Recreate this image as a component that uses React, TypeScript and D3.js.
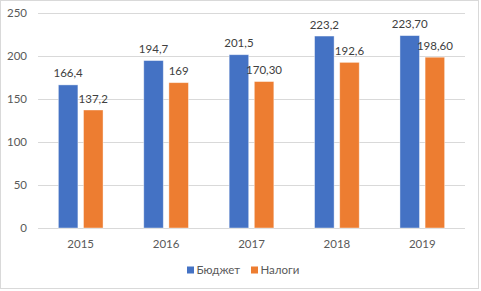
import React from "react";
import * as d3 from "d3";

const years = ["2015", "2016", "2017", "2018", "2019"];
const seriesNames = ["Бюджет", "Налоги"];
const budget = [166.4, 194.7, 201.5, 223.2, 223.7];
const taxes = [137.2, 169, 170.3, 192.6, 198.6];
const budgetLabels = ["166,4", "194,7", "201,5", "223,2", "223,70"];
const taxesLabels = ["137,2", "169", "170,30", "192,6", "198,60"];
const yTicks = [0, 50, 100, 150, 200, 250];
const colors = ["#4472C4", "#ED7D31"];

const W = 481;
const H = 291;
const FONT = "Lato, 'Open Sans', sans-serif";

export default function App() {
  const x0 = d3.scaleBand<string>().domain(years).range([38, 465]).paddingInner(0).paddingOuter(0);
  const x1 = d3
    .scaleBand<string>()
    .domain(seriesNames)
    .range([0, x0.bandwidth()])
    .paddingInner(0.223)
    .paddingOuter(0.81);
  const y = d3.scaleLinear().domain([0, 250]).range([228, 13]);

  const values = [budget, taxes];
  const labels = [budgetLabels, taxesLabels];

  return (
    <svg
      width={W}
      height={H}
      style={{ position: "absolute", left: 0, top: 0, background: "#fff" }}
      fontFamily={FONT}
    >
      <rect x={0.5} y={0.5} width={478} height={288} fill="#fff" stroke="#d9d9d9" strokeWidth={1} />
      {yTicks.map((t) => (
        <g key={t}>
          <line x1={38} x2={465} y1={y(t) + 0.5} y2={y(t) + 0.5} stroke="#d9d9d9" strokeWidth={1} />
          <text x={27} y={y(t)} dy="0.35em" textAnchor="end" fontSize={11.5} fill="#595959">
            {t}
          </text>
        </g>
      ))}
      {years.map((yr, i) => (
        <g key={yr} transform={`translate(${x0(yr)},0)`}>
          {seriesNames.map((s, j) => {
            const v = values[j][i];
            const bx = x1(s)!;
            return (
              <g key={s}>
                <rect
                  x={bx}
                  y={y(v)}
                  width={x1.bandwidth()}
                  height={y(0) - y(v)}
                  fill={colors[j]}
                  stroke="#fff"
                  strokeOpacity={0.5}
                  strokeWidth={0.8}
                />
                <text
                  x={bx + x1.bandwidth() / 2}
                  y={y(v) - 7.5}
                  textAnchor="middle"
                  fontSize={11.5}
                  fill="#404040"
                >
                  {labels[j][i]}
                </text>
              </g>
            );
          })}
          <text x={x0.bandwidth() / 2} y={248} textAnchor="middle" fontSize={11.5} fill="#595959">
            {yr}
          </text>
        </g>
      ))}
      {seriesNames.map((s, j) => {
        const lx = [187, 251][j];
        return (
          <g key={s}>
            <rect x={lx} y={266.5} width={7} height={7} fill={colors[j]} />
            <text x={lx + 9.5} y={274} fontSize={11.5} fill="#595959">
              {s}
            </text>
          </g>
        );
      })}
    </svg>
  );
}
